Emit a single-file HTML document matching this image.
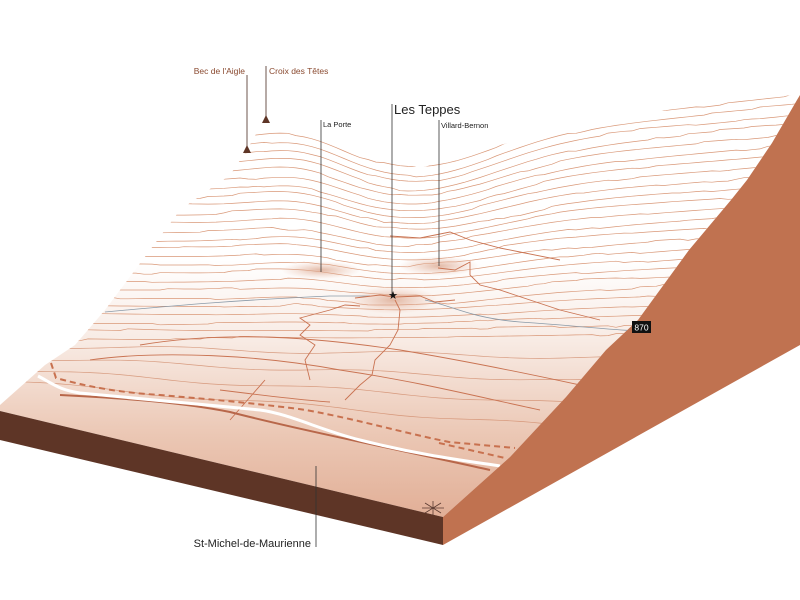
<!DOCTYPE html>
<html><head><meta charset="utf-8"><style>
html,body{margin:0;padding:0;background:#fff;width:800px;height:600px;overflow:hidden}
svg{display:block}
text{font-family:"Liberation Sans",sans-serif}
</style></head><body>
<svg id="s" width="800" height="600" viewBox="0 0 800 600" xmlns="http://www.w3.org/2000/svg">
<defs>
<linearGradient id="g" x1="0" y1="260" x2="0" y2="530" gradientUnits="userSpaceOnUse">
<stop offset="0" stop-color="#fff"/><stop offset="0.3" stop-color="#f8ebe4"/><stop offset="0.65" stop-color="#ebc7b4"/><stop offset="1" stop-color="#e0ab92"/>
</linearGradient>
<radialGradient id="gl"><stop offset="0" stop-color="#d9a288" stop-opacity="0.75"/><stop offset="1" stop-color="#e8b9a3" stop-opacity="0"/></radialGradient>
<clipPath id="cp"><path d="M0,411 L0,405 L45,365 L75,345 L105,310 L150,250 L180,210 L230,175 L247,150 L265,118 L300,130 L330,140 L360,150 L390,160 L420,168 L450,160 L500,145 L560,130 L640,115 L720,100 L797,95 L797,100 L772,143 L747,180 L731,200 L689,250 L638,320 L606,350 L566,397 L510,457 L443,517 Z"/></clipPath>
</defs>
<path d="M0,411 L0,405 L45,365 L75,345 L105,310 L150,250 L180,210 L230,175 L247,150 L265,118 L300,130 L330,140 L360,150 L390,160 L420,168 L450,160 L500,145 L560,130 L640,115 L720,100 L797,95 L797,100 L772,143 L747,180 L731,200 L689,250 L638,320 L606,350 L566,397 L510,457 L443,517 Z" fill="url(#g)"/>
<path d="M0,411 L443,517 L443,545 L0,440 Z" fill="#5e3526"/>
<path d="M443,517 L510,457 L566,397 L606,350 L638,320 L689,250 L731,200 L747,180 L772,143 L797,100 L800,95 L800,345 L443,545 Z" fill="#c07250"/>
<g id="c" clip-path="url(#cp)" fill="none" stroke="#d99878" stroke-width="0.7"></g>
<g clip-path="url(#cp)" fill="none">
<ellipse cx="321" cy="270" rx="40" ry="9" fill="url(#gl)"/>
<ellipse cx="439" cy="266" rx="40" ry="10" fill="url(#gl)"/>
<ellipse cx="393" cy="300" rx="45" ry="14" fill="url(#gl)"/>
<path d="M105,312 C180,305 240,300 330,296 L370,296" stroke="#8a9aa8" stroke-width="0.8"/>
<path d="M425,300 C450,305 470,318 520,322 C580,326 610,330 640,331" stroke="#8a9aa8" stroke-width="0.8"/>
<g stroke="#c97352" stroke-width="0.9">
<path d="M355,298 L380,295 L395,297 L420,296 L435,302 L455,300 M360,306 L345,305 L330,310 L300,318 L310,325 L300,335 L315,345 L305,360 L310,380"/>
<path d="M395,300 L400,310 L398,330 L390,345 L375,360 L372,375 L360,385 L345,400"/>
<path d="M265,380 L230,420 M220,390 C260,395 300,400 330,402"/>
<path d="M438,268 L455,270 L470,262 L470,275 L480,285 L500,290 L560,310 L600,320"/>
<path d="M390,236 L420,238 L450,232 L470,240 L500,248 L520,252 L560,260"/>
<path d="M60,395 C120,398 180,402 230,412 C300,430 400,450 490,470" stroke-width="2" stroke="#b8674a"/>
<path d="M90,360 C160,350 260,355 340,370 C420,382 470,395 540,410"/>
<path d="M140,345 C230,330 320,338 400,350 C460,360 520,372 580,385"/>
</g>
<path d="M38,376 C55,385 60,390 80,393 C150,400 210,405 260,410 C290,414 320,430 360,440 C420,455 460,460 500,466" stroke="#fff" stroke-width="3"/>
<path d="M51,363 L56,378 C100,390 130,393 160,395 C220,400 270,405 306,410 C360,420 400,432 449,442 L515,448 M439,443 L505,458" stroke="#c8714f" stroke-width="2" stroke-dasharray="6,4"/>
</g>
<g stroke="#4a2a20" stroke-width="0.8" fill="none">
<line x1="247" y1="75" x2="247" y2="146"/>
<line x1="266" y1="66" x2="266" y2="116"/>
</g>
<path d="M243,153 L247,145 L251,153 Z M262,123 L266,115 L270,123 Z" fill="#5e3526"/>
<g stroke="#333" stroke-width="0.8">
<line x1="392" y1="104" x2="392" y2="296"/>
<line x1="321" y1="120" x2="321" y2="272"/>
<line x1="439" y1="120" x2="439" y2="266"/>
<line x1="316" y1="466" x2="316" y2="547"/>
</g>
<text x="393" y="299" font-size="11" text-anchor="middle" fill="#111">★</text>
<text x="245" y="74" font-size="8.5" text-anchor="end" fill="#8a4a30">Bec de l'Aigle</text>
<text x="269" y="74" font-size="8.5" fill="#8a4a30">Croix des Têtes</text>
<text x="394" y="114" font-size="13" fill="#222">Les Teppes</text>
<text x="323" y="127" font-size="7.5" fill="#222">La Porte</text>
<text x="441" y="128" font-size="7.5" fill="#222">Villard-Bernon</text>
<text x="311" y="547" font-size="11" text-anchor="end" fill="#222">St-Michel-de-Maurienne</text>
<rect x="632" y="321" width="19" height="12" fill="#111"/>
<text x="641.5" y="330.5" font-size="8.5" text-anchor="middle" fill="#fff">870</text>
<g stroke="#5a3a30" stroke-width="0.8">
<line x1="422" y1="508" x2="444" y2="508"/><line x1="425" y1="503" x2="441" y2="513"/><line x1="425" y1="513" x2="441" y2="503"/><line x1="433" y1="501" x2="433" y2="515"/>
</g>
<script>
(function(){
var g=document.getElementById('c'),N=24,seed=7;
function r(){seed=(seed*9301+49297)%233280;return seed/233280;}
for(var k=0;k<=N;k++){
 var t=k/N,y0=140+200*t,yR=95+235*t,d='',j=0;
 for(var x=0;x<=800;x+=8){
  var s=x<200?0:Math.pow((x-200)/600,1.5);
  var dip=(1-t)*38*Math.exp(-Math.pow((x-420)/110,2));
  var bump=-(1-t)*14*Math.exp(-Math.pow((x-300)/60,2));
  if(r()<0.15)j+=(r()-0.5)*4; j*=0.9;
  var y=y0+(yR-y0)*s+dip+bump+j;
  d+=(x?'L':'M')+x+','+y.toFixed(1);
 }
 var p=document.createElementNS('http://www.w3.org/2000/svg','path');
 p.setAttribute('d',d);g.appendChild(p);
}
for(var m=0;m<4;m++){
 var d2='',y1=345+m*12,y2=360+m*26;
 for(var x2=0;x2<=700;x2+=10){var yy=y1+(y2-y1)*x2/700+Math.sin(x2/37+m)*2;d2+=(x2?'L':'M')+x2+','+yy.toFixed(1);}
 var q=document.createElementNS('http://www.w3.org/2000/svg','path');
 q.setAttribute('d',d2);q.setAttribute('stroke','#d08868');q.setAttribute('opacity','0.8');g.appendChild(q);
}
})();
</script>
</svg>
</body></html>
